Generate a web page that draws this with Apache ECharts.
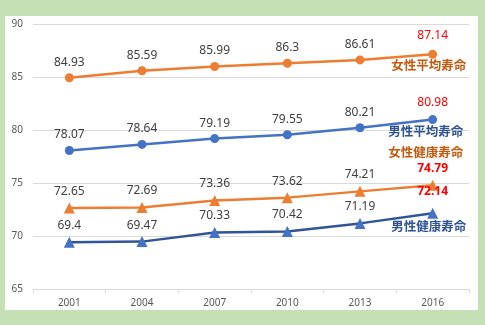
<!DOCTYPE html>
<html><head><meta charset="utf-8">
<script src="https://cdn.jsdelivr.net/npm/echarts@6/dist/echarts.min.js"></script>
<style>
html,body{margin:0;padding:0;background:#c5e0b4;width:485px;height:325px;overflow:hidden;}
#panel{position:absolute;left:5px;top:16px;width:473px;height:294px;background:#fff;}
#chart{position:absolute;left:0;top:0;width:485px;height:325px;}
</style></head>
<body>
<div id="panel"></div>
<div id="chart"></div>
<script>
const years = ['2001','2004','2007','2010','2013','2016'];
const femaleLife = [84.93, 85.59, 85.99, 86.3, 86.61, 87.14];
const maleLife = [78.07, 78.64, 79.19, 79.55, 80.21, 80.98];
const femaleHealth = [72.65, 72.69, 73.36, 73.62, 74.21, 74.79];
const maleHealth = [69.4, 69.47, 70.33, 70.42, 71.19, 72.14];
const names = ['女性平均寿命','男性平均寿命','女性健康寿命','男性健康寿命'];

const numFont = '"Noto Sans", "Liberation Sans", sans-serif';
const cjkFont = '"Noto Sans CJK JP", sans-serif';

function buildData(arr, lastBold, lastDist) {
  return arr.map((v, i) => {
    if (i === arr.length - 1) {
      return {value: v, label: {color: '#ff0000', fontWeight: lastBold ? 'bold' : 'normal', distance: lastDist}};
    }
    return v;
  });
}

function makeSeries(name, arr, color, itemColor, symbol, symbolSize, nameColor, nameOffset, lastBold, lastDist) {
  return {
    name: name,
    type: 'line',
    data: buildData(arr, lastBold, lastDist),
    symbol: symbol,
    symbolSize: symbolSize,
    showAllSymbol: true,
    lineStyle: {color: color, width: 2.5},
    itemStyle: {color: itemColor, borderWidth: 0},
    label: {show: true, position: 'top', distance: 5, color: '#404040', fontSize: 12, fontFamily: numFont},
    emphasis: {disabled: true},
    markPoint: {
      symbol: 'circle', symbolSize: 0, silent: true,
      data: [{coord: [arr.length - 1, arr[arr.length - 1]], value: name}],
      label: {show: true, position: 'inside', offset: nameOffset, formatter: name,
        color: nameColor, fontSize: 12.5, fontWeight: 'bold', fontFamily: cjkFont}
    }
  };
}

const chart = echarts.init(document.getElementById('chart'), null, {renderer: 'canvas'});
chart.setOption({
  animation: false,
  backgroundColor: 'transparent',
  grid: {left: 33, right: 16, top: 24, bottom: 36, containLabel: false},
  xAxis: {
    type: 'category', data: years, boundaryGap: true,
    axisLine: {lineStyle: {color: '#d9d9d9', width: 1}},
    axisTick: {show: true, lineStyle: {color: '#d9d9d9'}, length: 4},
    axisLabel: {color: '#595959', fontSize: 10, fontFamily: numFont, margin: 9}
  },
  yAxis: {
    type: 'value', min: 65, max: 90, interval: 5,
    axisLine: {show: false}, axisTick: {show: false},
    splitLine: {lineStyle: {color: '#d9d9d9', width: 1}},
    axisLabel: {color: '#595959', fontSize: 10, fontFamily: numFont, margin: 10}
  },
  series: [
    makeSeries(names[0], femaleLife, '#ed7d31', '#ed7d31', 'circle', 9, '#c55a11', [-4, 11], false, 8),
    makeSeries(names[1], maleLife, '#4472c4', '#4472c4', 'circle', 9, '#2f5597', [-7, 12], false, 7),
    makeSeries(names[2], femaleHealth, '#ed7d31', '#ed7d31', 'triangle', 11, '#c55a11', [-7, -33], true, 5),
    makeSeries(names[3], maleHealth, '#2f5597', '#4472c4', 'triangle', 11, '#2f5597', [-4, 13], true, 10)
  ]
});
</script>
</body></html>
